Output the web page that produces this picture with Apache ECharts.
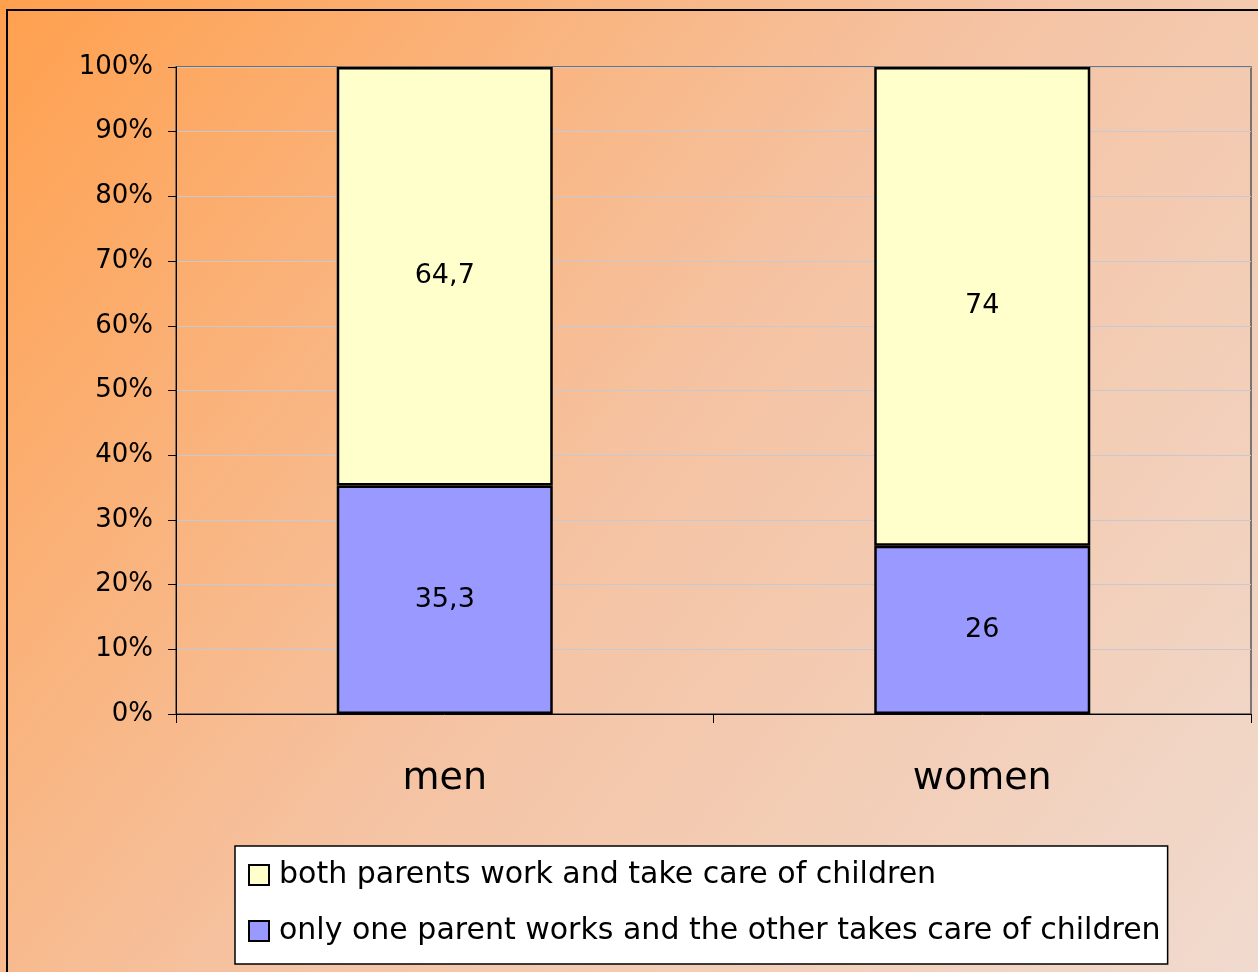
<!DOCTYPE html>
<html>
<head>
<meta charset="utf-8">
<script src="https://cdn.jsdelivr.net/npm/echarts@6/dist/echarts.min.js"></script>
<style>
  html, body { margin: 0; padding: 0; }
  #chart { width: 1258px; height: 972px; }
</style>
</head>
<body>
<div id="chart"></div>
<script>
// categories
var categories = ['men', 'women'];
// series
var onlyOneName = 'only one parent works and the other takes care of children';
var bothName = 'both parents work and take care of children';
var onlyOne = [35.3, 26];
var both = [64.7, 74];

var font = '"DejaVu Sans", Arial, sans-serif';

// 35.3 -> 35,3
function commaLabel(p) {
    return String(p.value).replace('.', ',');
}

var Chart = echarts.init(document.getElementById('chart'));
Chart.setOption({
    backgroundColor: new echarts.graphic.LinearGradient(0, 0, 1, 1, [
        {offset: 0, color: '#ffa04e'},
        {offset: 0.5, color: '#f5c3a3'},
        {offset: 1, color: '#f0dace'}
    ]),
    animation: false,
    // outer frame
    graphic: [
        {
            type: 'rect',
            shape: {x: 7, y: 10, width: 1300, height: 1000},
            style: {fill: 'none', stroke: '#000', lineWidth: 2}
        }
    ],
    grid: {
        left: 176,
        right: 7,
        top: 67,
        bottom: 258,
        show: true,
        backgroundColor: 'transparent',
        borderColor: '#555',
        borderWidth: 1.5
    },
    legend: {
        data: [bothName, onlyOneName],
        orient: 'vertical',
        left: 235,
        top: 846,
        backgroundColor: '#fff',
        borderColor: '#000',
        borderWidth: 1.5,
        padding: [14, 7, 18, 13],
        itemWidth: 20,
        itemHeight: 20,
        itemGap: 26,
        icon: 'rect',
        textStyle: {
            fontFamily: font,
            fontSize: 30,
            lineHeight: 30,
            color: '#000',
            padding: [0, 0, 0, 5]
        }
    },
    xAxis: {
        type: 'category',
        data: categories,
        axisLine: {lineStyle: {color: '#000', width: 1}},
        axisTick: {show: true, length: 9, lineStyle: {color: '#000'}},
        axisLabel: {
            fontFamily: font,
            fontSize: 38,
            color: '#000',
            margin: 46
        }
    },
    yAxis: {
        type: 'value',
        min: 0,
        max: 100,
        interval: 10,
        axisLine: {show: true, lineStyle: {color: '#000', width: 1}},
        axisTick: {show: true, length: 8, lineStyle: {color: '#000'}},
        axisLabel: {
            formatter: '{value}%',
            fontFamily: font,
            fontSize: 26,
            color: '#000',
            margin: 23
        },
        splitLine: {lineStyle: {color: '#c6c8d2', width: 1}}
    },
    series: [
        {
            name: onlyOneName,
            type: 'bar',
            stack: 'total',
            barWidth: 216,
            data: onlyOne,
            itemStyle: {color: '#9999ff', borderColor: '#000', borderWidth: 2.5},
            label: {
                show: true,
                position: 'inside',
                formatter: commaLabel,
                fontFamily: font,
                fontSize: 27,
                color: '#000'
            }
        },
        {
            name: bothName,
            type: 'bar',
            stack: 'total',
            barWidth: 216,
            data: both,
            itemStyle: {color: '#ffffcc', borderColor: '#000', borderWidth: 2.5},
            label: {
                show: true,
                position: 'inside',
                formatter: commaLabel,
                fontFamily: font,
                fontSize: 27,
                color: '#000'
            }
        }
    ]
});
</script>
</body>
</html>
